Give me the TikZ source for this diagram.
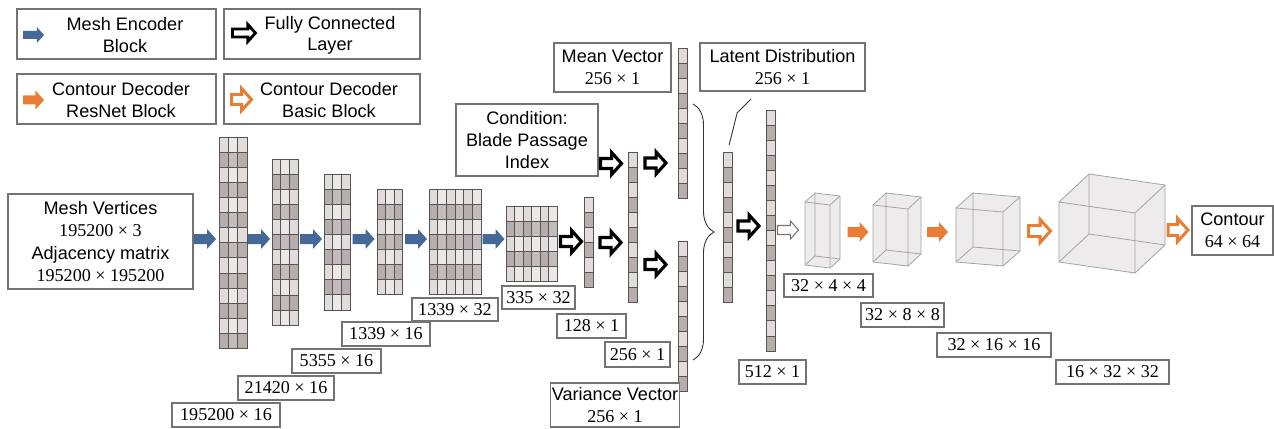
\documentclass[tikz,border=0pt]{standalone}
\usepackage{fontspec}
\setmainfont{Liberation Sans}
\newfontfamily\dimfont{Liberation Serif}
\usetikzlibrary{positioning}
\usetikzlibrary{decorations.pathreplacing}
\usetikzlibrary{calc}

\definecolor{encblue}{RGB}{68,104,152}
\definecolor{decorange}{RGB}{234,125,52}
\definecolor{boxgray}{RGB}{115,115,115}
\definecolor{cellline}{RGB}{88,84,84}
\definecolor{celllight}{RGB}{224,220,220}
\definecolor{celllightb}{RGB}{235,232,232}
\definecolor{celldark}{RGB}{182,173,173}
\definecolor{celldarkb}{RGB}{196,188,188}
\definecolor{cubefill}{RGB}{237,235,235}
\definecolor{cubeedge}{RGB}{165,162,162}

\newcommand{\px}{0.02cm}
\newcommand{\dims}[1]{{\dimfont #1}}

% block arrow: length, head width, shaft width
\tikzset{
  pics/blockarr/.style n args={3}{code={
    \path[pic actions] ({-#1/2},{-#3/2}) -- ({#1/2-0.45*#2},{-#3/2}) -- ({#1/2-0.45*#2},{-#2/2})
      -- ({#1/2},0) -- ({#1/2-0.45*#2},{#2/2}) -- ({#1/2-0.45*#2},{#3/2}) -- ({-#1/2},{#3/2}) -- cycle;
  }}
}

% feature map: name, left, top, columns, rows, cell width
\newcommand{\featmap}[6]{%
  \foreach \c in {1,...,#4}{%
    \foreach \r in {1,...,#5}{%
      \pgfmathtruncatemacro{\rowodd}{mod(\r,2)}%
      \pgfmathtruncatemacro{\colodd}{mod(\c,2)}%
      \ifnum\rowodd=1
        \ifnum\colodd=1 \def\cellcol{celllight}\else\def\cellcol{celllightb}\fi
      \else
        \ifnum\colodd=1 \def\cellcol{celldark}\else\def\cellcol{celldarkb}\fi
      \fi
      \filldraw[fill=\cellcol, cell] ({#2+(\c-1)*#6},{#3+(\r-1)*15.1}) rectangle ++(#6,15.1);
    }
  }
  \node[inner sep=0pt, minimum width=#4*#6*\px, minimum height=#5*15.1*\px, anchor=north west] (#1) at (#2,#3) {};
}

% latent vector: name, left, top, cells
\newcommand{\featvec}[4]{%
  \foreach \r in {1,...,#4}{%
    \pgfmathtruncatemacro{\rowodd}{mod(\r,2)}%
    \ifnum\rowodd=1 \def\cellcol{celllight}\else\def\cellcol{celldark}\fi
    \filldraw[fill=\cellcol, cell] (#2,{#3+(\r-1)*15.06}) rectangle ++(9.5,15.06);
  }
  \node[inner sep=0pt, minimum width=9.5*\px, minimum height=#4*15.06*\px, anchor=north west] (#1) at (#2,#3) {};
}

% decoder volume: name, x, y, width, height, slope, depth x, depth y
\newcommand{\fmcube}[8]{%
  \begin{scope}[shift={(#2,#3)}]
    \fill[cubefill] (0,0) -- (#7,#8) -- ({#4+#7},{#6+#8}) -- ({#4+#7},{#5+#6+#8}) -- (#4,{#5+#6}) -- (0,#5) -- cycle;
    \draw[cubeedge] (0,0) -- (#4,#6) -- (#4,{#5+#6}) -- (0,#5) -- cycle;
    \draw[cubeedge] (#7,#8) -- ({#4+#7},{#6+#8}) -- ({#4+#7},{#5+#6+#8}) -- (#7,{#5+#8}) -- cycle;
    \draw[cubeedge] (0,0) -- ++(#7,#8) (#4,#6) -- ++(#7,#8) (#4,{#5+#6}) -- ++(#7,#8) (0,#5) -- ++(#7,#8);
    \coordinate (#1) at ({#4/2},{#5/2});
  \end{scope}
}

\begin{document}
\begin{tikzpicture}[x=0.02cm, y=-0.02cm,
  lbl/.style={draw=boxgray, line width=0.6pt, fill=white, inner sep=1pt, align=center,
    font=\fontsize{10.3}{12.6}\selectfont},
  dimbox/.style={lbl, font=\dimfont\fontsize{10.3}{12.6}\selectfont},
  legtxt/.style={inner sep=0pt, align=center, font=\fontsize{10.3}{12}\selectfont},
  cell/.style={draw=cellline, line width=0.4pt},
  cubeedge/.style={draw=cubeedge, line width=0.45pt},
  encarrow/.style={fill=encblue},
  resarrow/.style={fill=decorange},
  fcarrow/.style={fill=white, draw=black, line width=1.8pt, line join=miter},
  basicarrow/.style={fill=white, draw=decorange, line width=1.7pt, line join=miter},
  outarrow/.style={fill=white, draw=boxgray, line width=0.6pt, line join=miter}]

\useasboundingbox (0,0) rectangle (1274,429);

% legend
\node[lbl, minimum width=199*\px, minimum height=50*\px] (legenc) at (116.5,34) {};
\node[legtxt] (legenctxt) at (125,35) {Mesh Encoder\\Block};
\pic[encarrow] (legencarr) at (33.5,35) {blockarr={21}{16}{8}};

\node[lbl, minimum width=196*\px, minimum height=50*\px] (legfc) at (322,34) {};
\node[legtxt] (legfctxt) at (330,35) {Fully Connected\\Layer};
\pic[fcarrow, line width=1.6pt] (legfcarr) at (244,33) {blockarr={23}{17}{8}};

\node[lbl, minimum width=199*\px, minimum height=50*\px] (legres) at (116.5,99) {};
\node[legtxt] (legrestxt) at (121,100) {Contour Decoder\\ResNet Block};
\pic[resarrow] (legresarr) at (33.5,100) {blockarr={21}{19}{9}};

\node[lbl, minimum width=196*\px, minimum height=50*\px] (legbas) at (322,99) {};
\node[legtxt] (legbastxt) at (329,100) {Contour Decoder\\Basic Block};
\pic[basicarrow] (legbasarr) at (241.5,99.5) {blockarr={20}{22}{10}};

% encoder
\node[lbl, minimum width=185*\px, minimum height=95*\px] (mesh) at (100.5,241.5)
  {Mesh Vertices\\\dims{195200 × 3}\\Adjacency matrix\\\dims{195200 × 195200}};

\featmap{g1}{219}{137}{3}{14}{9.3}
\featmap{g2}{272}{159}{3}{11}{8.7}
\featmap{g3}{324}{174}{3}{9}{8.7}
\featmap{g4}{377}{189}{3}{7}{8.5}
\featmap{g5}{429}{189}{6}{7}{8.7}
\featmap{g6}{506}{206}{6}{5}{8.5}

\pic[encarrow] (enc1) at (205,239) {blockarr={22}{20}{10}};
\pic[encarrow] (enc2) at (259,239) {blockarr={22}{20}{10}};
\pic[encarrow] (enc3) at (311,239) {blockarr={22}{20}{10}};
\pic[encarrow] (enc4) at (363.5,239) {blockarr={22}{20}{10}};
\pic[encarrow] (enc5) at (416,239) {blockarr={22}{20}{10}};
\pic[encarrow] (enc6) at (493.5,239) {blockarr={22}{20}{10}};

\node[dimbox, minimum width=108*\px, minimum height=24*\px] (d1) at (226,415) {195200 × 16};
\node[dimbox, minimum width=96*\px, minimum height=24*\px] (d2) at (286,388) {21420 × 16};
\node[dimbox, minimum width=89*\px, minimum height=24*\px] (d3) at (336.5,361) {5355 × 16};
\node[dimbox, minimum width=88*\px, minimum height=24*\px] (d4) at (386,334) {1339 × 16};
\node[dimbox, minimum width=86*\px, minimum height=23*\px] (d5) at (455,309.5) {1339 × 32};
\node[dimbox, minimum width=73*\px, minimum height=23*\px] (d6) at (538.5,297.5) {335 × 32};

% bottleneck
\featvec{v128}{584}{197}{6}
\featvec{vcat}{628}{152}{10}
\featvec{vmean}{678}{48}{10}
\featvec{vvar}{678}{241}{10}

\node[lbl, minimum width=142*\px, minimum height=72*\px] (cond) at (527,140) {Condition:\\Blade Passage\\Index};
\node[lbl, minimum width=117*\px, minimum height=49*\px] (mean) at (612.5,67.5) {Mean Vector\\\dims{256 × 1}};
\node[lbl, minimum width=124*\px, minimum height=44*\px] (var) at (615,405) {Variance Vector\\\dims{256 × 1}};

\pic[fcarrow] (fc1) at (571,241.5) {blockarr={21}{22}{10}};
\pic[fcarrow] (fc2) at (610.5,242.5) {blockarr={21}{22}{10}};
\pic[fcarrow] (fc3) at (611,163.5) {blockarr={21}{22}{10}};
\pic[fcarrow] (fc4) at (655.5,163) {blockarr={21}{22}{10}};
\pic[fcarrow] (fc5) at (655.5,264.5) {blockarr={21}{22}{10}};

\node[dimbox, minimum width=69*\px, minimum height=24*\px] (d7) at (591.5,326) {128 × 1};
\node[dimbox, minimum width=65*\px, minimum height=25*\px] (d8) at (637.5,354.5) {256 × 1};

\coordinate (bracetop) at (693,104);
\coordinate (bracebot) at (693,360);
\draw[decorate, decoration={brace, amplitude=0.42cm}, line width=0.5pt, black!80] (bracetop) -- (bracebot);

% latent space
\featvec{vlat}{723}{152}{10}
\featvec{v512}{766}{110}{16}
\node[lbl, minimum width=165*\px, minimum height=48*\px] (latent) at (782.5,67) {Latent Distribution\\\dims{256 × 1}};
\draw[line width=0.5pt, black!80] ($(vlat.north)+(1,-7)$) -- ++(8,-32) -- ++(14,-14);

\pic[fcarrow] (fc6) at (748.5,226) {blockarr={21}{22}{10}};
\node[dimbox, minimum width=67*\px, minimum height=24*\px] (d9) at (772.5,372) {512 × 1};

% decoder
\pic[outarrow] (out1) at (788,230) {blockarr={21}{18}{9}};
\fmcube{c1}{805}{202}{25}{63}{3}{10}{-9}
\pic[resarrow] (res1) at (858,232) {blockarr={21}{20}{10}};
\fmcube{c2}{873}{205}{35}{57}{4}{13}{-12}
\pic[resarrow] (res2) at (937.5,232) {blockarr={21}{20}{10}};
\fmcube{c3}{956}{208}{47}{54}{4}{17}{-15}
\pic[basicarrow] (bas1) at (1039.5,231) {blockarr={22}{23}{11}};
\fmcube{c4}{1059}{202}{76}{60}{11}{30}{-28}
\pic[basicarrow] (bas2) at (1178,230) {blockarr={20}{23}{11}};

\node[lbl, minimum width=81*\px, minimum height=49*\px] (contour) at (1232.5,230.5) {Contour\\\dims{64 × 64}};

\node[dimbox, minimum width=89*\px, minimum height=23*\px] (d10) at (828.5,285.5) {32 × 4 × 4};
\node[dimbox, minimum width=83*\px, minimum height=24*\px] (d11) at (902.5,315) {32 × 8 × 8};
\node[dimbox, minimum width=114*\px, minimum height=24*\px] (d12) at (994,345) {32 × 16 × 16};
\node[dimbox, minimum width=113*\px, minimum height=24*\px] (d13) at (1112.5,372) {16 × 32 × 32};

\end{tikzpicture}
\end{document}
